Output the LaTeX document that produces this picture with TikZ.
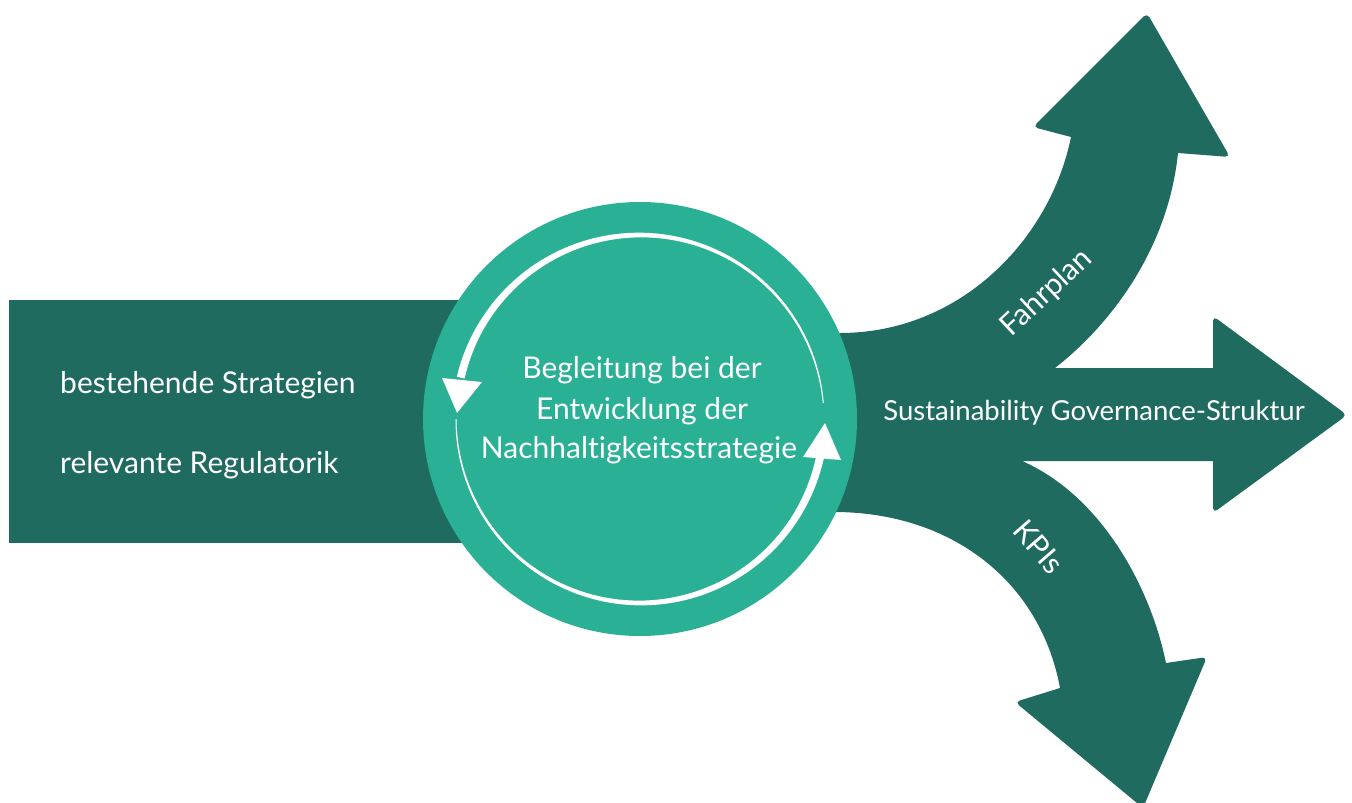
\documentclass[tikz,border=0pt]{standalone}
\usepackage{fontspec}
\setmainfont{Lato}[Ligatures={NoCommon}]
\definecolor{dk}{HTML}{1F6B5F}
\definecolor{tl}{HTML}{2AB195}
\begin{document}
\begin{tikzpicture}[x=1pt,y=-1pt,
  lbl/.style={text=white,font=\fontsize{30}{40}\selectfont,inner sep=0pt},
  lbls/.style={text=white,font=\fontsize{27.5}{36}\selectfont,inner sep=0pt},
  cyc/.style={fill=white},
]
\useasboundingbox (0,0) rectangle (1352,803);
% left band
\fill[dk] (9,300) rectangle (560,543);
% right three-way arrow
\fill[dk] (800,333) -- (840,333) .. controls (960,333) and (1050,240) .. (1071,137)
  [rounded corners=5pt] -- (1033,127) -- (1147,13) -- (1230,157) [sharp corners] -- (1178,153)
  .. controls (1168,250) and (1110,325) .. (1055,368) -- (1213,368)
  [rounded corners=5pt] -- (1213,316) -- (1347,415) -- (1213,513) [sharp corners] -- (1213,461)
  -- (1022,461) .. controls (1100,495) and (1150,585) .. (1166,663)
  [rounded corners=5pt] -- (1207,657) -- (1143,808) -- (1015,702) [sharp corners] -- (1060,688)
  .. controls (1040,580) and (950,512) .. (834,512) -- (800,512) -- cycle;
% circle
\fill[tl] (640,419) circle[radius=217pt];
% cycle arcs (tapered)
\fill[cyc] plot[domain=5:167,samples=80] ({640+(184+0.5+3.5*(\x-5)/162)*cos(\x)},{419-(184+0.5+3.5*(\x-5)/162)*sin(\x)})
  -- plot[domain=167:5,samples=80] ({640+(184-0.5-3.5*(\x-5)/162)*cos(\x)},{419-(184-0.5-3.5*(\x-5)/162)*sin(\x)}) -- cycle;
\fill[cyc] (442,378) -- (482,382) -- (457,413) -- cycle;
\fill[cyc] plot[domain=180:348,samples=80] ({640+(184+0.5+3.5*(\x-180)/168)*cos(\x)},{419-(184+0.5+3.5*(\x-180)/168)*sin(\x)})
  -- plot[domain=348:180,samples=80] ({640+(184-0.5-3.5*(\x-180)/168)*cos(\x)},{419-(184-0.5-3.5*(\x-180)/168)*sin(\x)}) -- cycle;
\fill[cyc] (803,457) -- (841,460) -- (825,423) -- cycle;
% texts
\node[lbl,anchor=base] (c1) at (642,378) {Begleitung bei der};
\node[lbl,anchor=base] (c2) at (642,419) {Entwicklung der};
\node[lbl,anchor=base] (c3) at (639,458) {Nachhaltigkeitsstrategie};
\node[lbl,anchor=base west] (s1) at (60,393) {bestehende Strategien};
\node[lbl,anchor=base west] (s2) at (60,473) {relevante Regulatorik};
\node[lbls,anchor=base] (gov) at (1094,420) {Sustainability Governance-Struktur};
\node[lbl,rotate=43] (fp) at (1047,293) {Fahrplan};
\node[lbl,rotate=-49] (kp) at (1039,547) {KPIs};
\end{tikzpicture}
\end{document}
